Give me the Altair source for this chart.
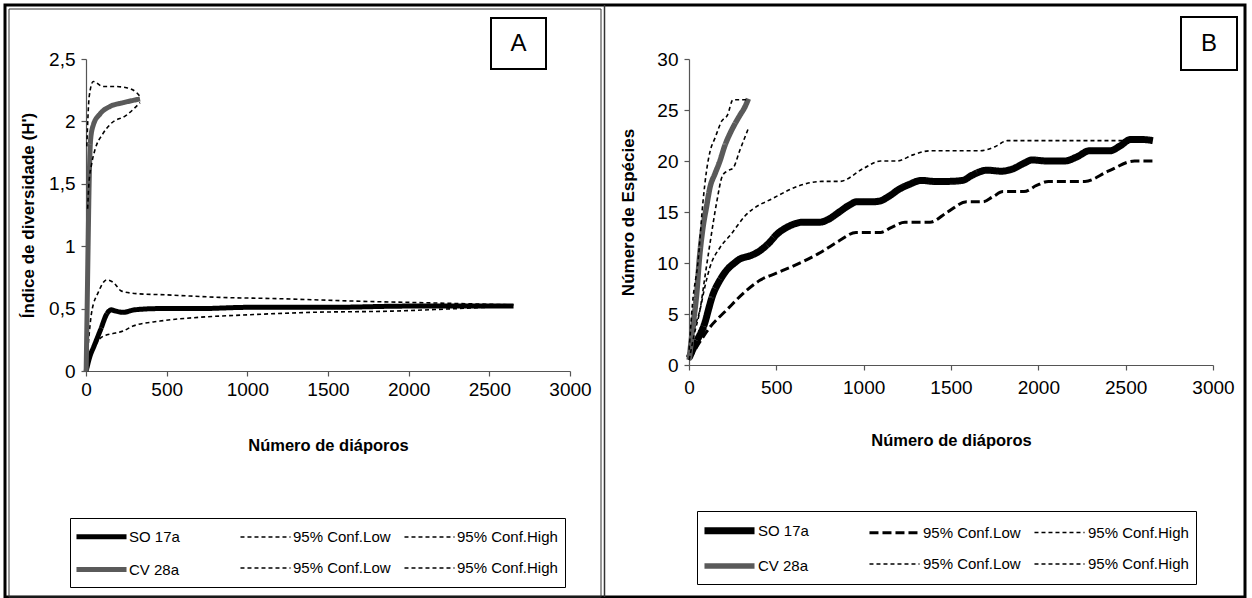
import altair as alt
import pandas as pd

# ---------------- Panel A: Shannon diversity (H') ----------------
A_SO_x = [1, 25, 50, 90, 130, 155, 185, 230, 300, 450, 700, 1000, 1500, 2000, 2650]
A_SO_y = [0, 0.12, 0.2, 0.33, 0.46, 0.49, 0.48, 0.47, 0.49, 0.5, 0.5, 0.51, 0.51, 0.52, 0.52]
A_SOlow_x = [1, 45, 87, 130, 167, 230, 291, 459, 700, 1000, 1400, 1900, 2300, 2650]
A_SOlow_y = [0, 0.17, 0.26, 0.29, 0.3, 0.32, 0.36, 0.4, 0.43, 0.45, 0.47, 0.48, 0.5, 0.52]
A_SOhigh_x = [1, 35, 76, 128, 169, 221, 314, 500, 830, 1180, 1670, 2160, 2650]
A_SOhigh_y = [0, 0.47, 0.63, 0.73, 0.71, 0.64, 0.62, 0.61, 0.59, 0.58, 0.56, 0.545, 0.53]
A_CV_x = [1, 7, 13, 20, 29, 45, 87, 149, 231, 335]
A_CV_y = [0, 0.5, 1.0, 1.54, 1.86, 1.97, 2.06, 2.12, 2.15, 2.18]
A_CVlow_x = [10, 18, 35, 55, 104, 153, 251, 335]
A_CVlow_y = [1.3, 1.5, 1.66, 1.77, 1.9, 1.98, 2.05, 2.15]
A_CVhigh_x = [5, 20, 45, 104, 169, 251, 314, 335]
A_CVhigh_y = [1.8, 2.2, 2.32, 2.28, 2.28, 2.27, 2.23, 2.2]

# ---------------- Panel B: species accumulation ----------------
B_SO_x = [1, 40, 82, 139, 180, 216, 260, 292, 349, 406, 460, 502, 550, 598, 650, 700, 750, 800,
          860, 920, 960, 1000, 1050, 1096, 1150, 1200, 1260, 1331, 1400, 1480, 1567, 1620, 1706,
          1790, 1850, 1920, 1964, 2050, 2152, 2220, 2293, 2350, 2410, 2470, 2527, 2600, 2656]
B_SO_y = [0.7, 2.2, 3.7, 7.0, 8.4, 9.3, 10.0, 10.4, 10.7, 11.2, 12.0, 12.8, 13.4, 13.8, 14.0, 14.0,
          14.0, 14.3, 15.0, 15.7, 16.0, 16.0, 16.0, 16.1, 16.6, 17.2, 17.7, 18.1, 18.0, 18.0, 18.1,
          18.6, 19.1, 19.0, 19.2, 19.8, 20.1, 20.0, 20.0, 20.4, 21.0, 21.0, 21.0, 21.5, 22.1, 22.1, 22.0]
B_SOlow_x = [1, 60, 120, 216, 309, 406, 500, 596, 750, 862, 956, 1096, 1160, 1236, 1380, 1480,
             1589, 1683, 1740, 1798, 1918, 1990, 2058, 2267, 2400, 2551, 2656]
B_SOlow_y = [0.5, 2.2, 3.7, 5.4, 7.0, 8.3, 9.0, 9.7, 11.0, 12.2, 13.0, 13.0, 13.5, 14.0, 14.0, 15.0,
             16.0, 16.0, 16.5, 17.0, 17.0, 17.6, 18.0, 18.0, 19.0, 20.0, 20.0]
B_SOhigh_x = [1, 30, 63, 90, 120, 177, 240, 320, 487, 674, 760, 862, 1002, 1096, 1191, 1283, 1378,
              1500, 1660, 1752, 1823, 2000, 2200, 2456, 2600]
B_SOhigh_y = [0.8, 3.5, 5.4, 7.6, 9.6, 11.5, 12.8, 14.6, 16.4, 17.8, 18.0, 18.0, 19.3, 20.0, 20.0,
              20.6, 21.0, 21.0, 21.0, 21.4, 22.0, 22.0, 22.0, 22.0, 22.0]
B_CV_x = [1, 20, 44, 60, 80, 100, 120, 150, 177, 205, 235, 265, 292, 320, 340]
B_CV_y = [0.5, 3.5, 7.0, 10.5, 13.5, 15.5, 17.4, 18.8, 20.0, 21.5, 22.7, 23.7, 24.5, 25.3, 26.1]
B_CVlow_x = [1, 30, 63, 90, 120, 159, 190, 216, 252, 290, 340]
B_CVlow_y = [0.5, 3.0, 5.4, 8.5, 11.9, 16.0, 18.5, 19.0, 19.3, 21.0, 23.2]
B_CVhigh_x = [1, 20, 52, 80, 100, 120, 150, 187, 220, 252, 340]
B_CVhigh_y = [1.5, 6.0, 10.2, 16.0, 19.0, 20.9, 22.3, 23.9, 24.5, 26.0, 26.0]

SERIES = ["SO 17a", "SO Low", "SO High", "CV 28a", "CV Low", "CV High"]
# legend entries are placed column by column (2 rows x 3 columns)
LEGEND_ORDER = ["SO 17a", "CV 28a", "SO Low", "CV Low", "SO High", "CV High"]
COLORS = ["#000000", "#000000", "#000000", "#5a5a5a", "#000000", "#000000"]
A_WIDTHS = [5, 1.6, 1.6, 5, 1.6, 1.6]
A_DASHES = [[1, 0], [4, 3], [4, 3], [1, 0], [4, 3], [4, 3]]
B_WIDTHS = [7, 3, 1.6, 5.5, 1.6, 1.6]
B_DASHES = [[1, 0], [9, 4], [4, 3], [1, 0], [4, 3], [4, 3]]

X_TICKS = [0, 500, 1000, 1500, 2000, 2500, 3000]
A_Y_TICKS = [0, 0.5, 1, 1.5, 2, 2.5]
B_Y_TICKS = [0, 5, 10, 15, 20, 25, 30]

SANS = "Liberation Sans, Arial, sans-serif"
PAGE_W, PAGE_H = 1252, 598


def table(parts):
    rows = []
    for name, xs, ys in parts:
        for i, (x, y) in enumerate(zip(xs, ys)):
            rows.append({"n": x, "v": y, "series": name, "ord": i})
    return pd.DataFrame(rows)


dfA = table([
    ("SO 17a", A_SO_x, A_SO_y), ("SO Low", A_SOlow_x, A_SOlow_y), ("SO High", A_SOhigh_x, A_SOhigh_y),
    ("CV 28a", A_CV_x, A_CV_y), ("CV Low", A_CVlow_x, A_CVlow_y), ("CV High", A_CVhigh_x, A_CVhigh_y),
])
dfB = table([
    ("SO 17a", B_SO_x, B_SO_y), ("SO Low", B_SOlow_x, B_SOlow_y), ("SO High", B_SOhigh_x, B_SOhigh_y),
    ("CV 28a", B_CV_x, B_CV_y), ("CV Low", B_CVlow_x, B_CVlow_y), ("CV High", B_CVhigh_x, B_CVhigh_y),
])

LABEL_EXPR = ("indexof(datum.label, 'Low') >= 0 ? '95% Conf.Low' : "
              "indexof(datum.label, 'High') >= 0 ? '95% Conf.High' : datum.label")


def legend(lx, ly, row_pad, col_pad):
    return alt.Legend(
        orient="none", legendX=lx, legendY=ly, columns=3, title=None, values=LEGEND_ORDER,
        symbolType="M-2.78,0H2.78", symbolSize=324, symbolOffset=13,
        labelExpr=LABEL_EXPR, labelFont=SANS, labelFontSize=15, labelColor="black",
        labelOffset=16, strokeColor="black", fillColor="white", padding=7,
        rowPadding=row_pad, columnPadding=col_pad, gridAlign="all",
    )


def x_axis(title_y, label_pad):
    return alt.Axis(
        values=X_TICKS, format="d", grid=False, domainColor="#555555", tickColor="#555555",
        domainWidth=1.2, tickWidth=1.2, tickSize=5, labelFont=SANS, labelFontSize=19,
        labelColor="black", labelPadding=label_pad, labelFlush=False, labelOverlap=False,
        title="Número de diáporos", titleFont=SANS, titleFontSize=16.5, titleFontWeight="bold",
        titleColor="black", titleY=title_y, titleBaseline="middle",
    )


def y_axis(values, title, title_x, title_y, label_expr=None):
    kw = dict(
        values=values, grid=False, domainColor="#555555", tickColor="#555555",
        domainWidth=1.2, tickWidth=1.2, tickSize=5, labelFont=SANS, labelFontSize=19,
        labelColor="black", labelPadding=6, labelFlush=False, labelOverlap=False,
        title=title, titleFont=SANS, titleFontSize=17, titleFontWeight="bold",
        titleColor="black", titleX=title_x, titleY=title_y, titleBaseline="middle",
    )
    if label_expr:
        kw["labelExpr"] = label_expr
    return alt.Axis(**kw)


def panel(df, w, h, ymax, yvals, ytitle, ytitle_x, xtitle_y, xlabel_pad, widths, dashes,
          leg, letter, box, origin):
    lines = alt.Chart(df).mark_line(interpolate="monotone").encode(
        x=alt.X("n:Q", scale=alt.Scale(domain=[0, 3000], nice=False),
                axis=x_axis(xtitle_y, xlabel_pad)),
        y=alt.Y("v:Q", scale=alt.Scale(domain=[0, ymax], nice=False),
                axis=y_axis(yvals, ytitle, ytitle_x, h / 2,
                            "replace(format(datum.value, '~g'), '.', ',')" if ymax < 10 else None)),
        color=alt.Color("series:N", scale=alt.Scale(domain=SERIES, range=COLORS), legend=leg),
        strokeDash=alt.StrokeDash("series:N", scale=alt.Scale(domain=SERIES, range=dashes), legend=leg),
        strokeWidth=alt.StrokeWidth("series:N", scale=alt.Scale(type="ordinal", domain=SERIES, range=widths),
                                    legend=leg),
        detail="series:N",
        order="ord:Q",
    )
    dummy = pd.DataFrame({"k": [letter]})
    ox, oy = origin
    bx0, by0, bx1, by1 = box
    boxmark = alt.Chart(dummy).mark_rect(fillOpacity=0, stroke="black", strokeWidth=2).encode(
        x=alt.value(bx0 - ox), x2=alt.value(bx1 - ox), y=alt.value(by0 - oy), y2=alt.value(by1 - oy))
    letter_mark = alt.Chart(dummy).mark_text(font=SANS, fontSize=24, align="center",
                                             baseline="middle", color="black").encode(
        x=alt.value((bx0 + bx1) / 2 - ox), y=alt.value((by0 + by1) / 2 - oy), text="k:N")
    return alt.layer(lines, boxmark, letter_mark).properties(width=w, height=h)


A_ORIGIN = (86, 59)
B_ORIGIN = (689, 59)

panelA = panel(dfA, 484, 312, 2.5, A_Y_TICKS, "Índice de diversidade (H')", 28 - 86, 74, 4,
               A_WIDTHS, A_DASHES, legend(70 - 86, 518 - 59, 11, 7), "A",
               (491, 18, 546, 69), A_ORIGIN)

# decorative page frames, drawn with panel A
frame_df = pd.DataFrame({"k": [0]})
ox, oy = A_ORIGIN
page = alt.Chart(frame_df).mark_rect(fill="white", fillOpacity=0, strokeWidth=0).encode(
    x=alt.value(0 - ox), x2=alt.value(PAGE_W - ox), y=alt.value(0 - oy), y2=alt.value(PAGE_H - oy))
outer = alt.Chart(frame_df).mark_rect(fillOpacity=0, stroke="black", strokeWidth=3).encode(
    x=alt.value(5 - ox), x2=alt.value(1245 - ox), y=alt.value(5 - oy), y2=alt.value(597 - oy))
innerA = alt.Chart(frame_df).mark_rect(fillOpacity=0, stroke="#333333", strokeWidth=1).encode(
    x=alt.value(9 - ox), x2=alt.value(601 - ox), y=alt.value(9 - oy), y2=alt.value(597 - oy))
sepB = alt.Chart(frame_df).mark_rule(stroke="#333333", strokeWidth=1.5).encode(
    x=alt.value(604.5 - ox), y=alt.value(5 - oy), y2=alt.value(597 - oy))
panelA = alt.layer(page, panelA, outer, innerA, sepB)

panelB = panel(dfB, 524, 306, 30, B_Y_TICKS, "Número de Espécies", 628 - 689, 75, 8,
               B_WIDTHS, B_DASHES, legend(697 - 689, 511 - 59, 9, 4), "B",
               (1181, 17, 1237, 70), B_ORIGIN)

chart = alt.hconcat(panelA, panelB, spacing=119, bounds="flush").resolve_scale(
    color="independent", strokeDash="independent", strokeWidth="independent"
).resolve_legend(
    color="independent", strokeDash="independent", strokeWidth="independent"
).properties(
    padding=0,
    background="white",
).configure_view(strokeWidth=0)

chart.save("out.html", embed_options={"renderer": "svg", "actions": False})
